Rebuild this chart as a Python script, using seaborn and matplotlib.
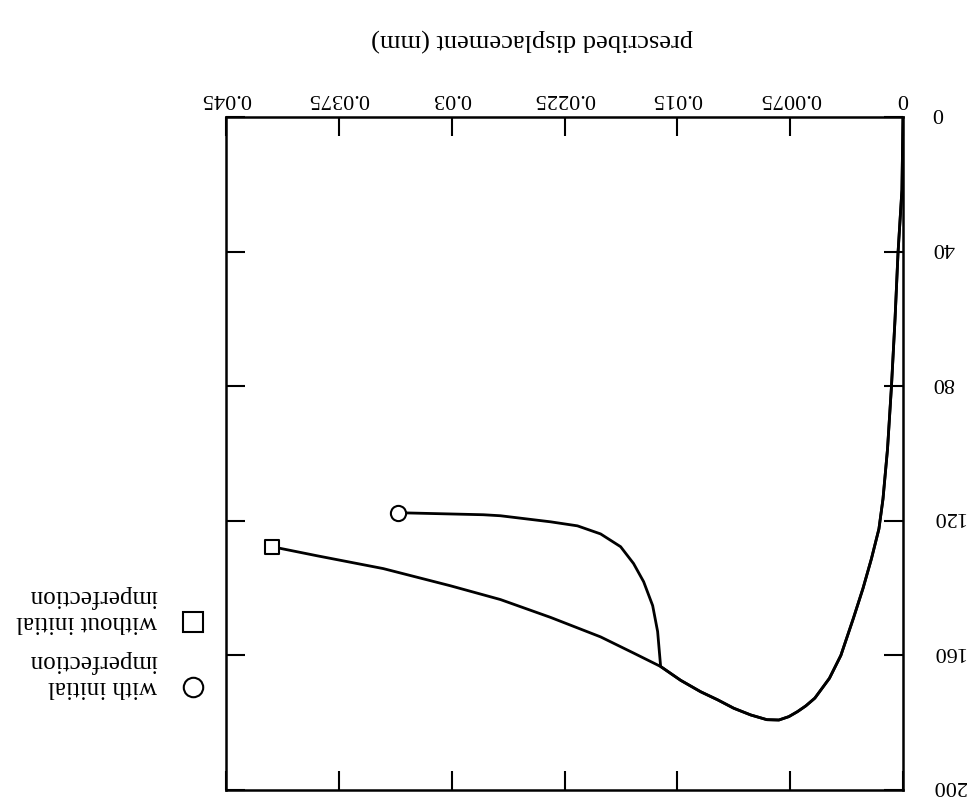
import matplotlib
matplotlib.use("Agg")
import matplotlib.pyplot as plt
import matplotlib.lines as mlines
from matplotlib.transforms import ScaledTranslation
import pandas as pd
import seaborn as sns

# Load path without initial imperfection (displacement in mm, load)
disp_without = [0, 0.00007, 0.00033, 0.00053, 0.00077, 0.00103, 0.00133, 0.00160, 0.00210,
                0.00266, 0.00330, 0.00413, 0.00489, 0.00586, 0.00646, 0.00701, 0.00759,
                0.00825, 0.00905, 0.01012, 0.01125, 0.01232, 0.01345, 0.01478, 0.01611,
                0.01791, 0.02010, 0.02343, 0.02676, 0.03009, 0.03455, 0.03894, 0.04194]
load_without = [0, 21.6, 40.3, 60.1, 80.3, 98.7, 113.5, 122.4, 131.3,
                140.1, 149.0, 160.0, 166.8, 172.7, 175.0, 176.7, 178.2,
                179.2, 179.1, 177.7, 175.7, 173.2, 170.8, 167.4, 163.3,
                159.3, 154.5, 148.7, 143.4, 139.3, 134.2, 130.4, 127.7]

# Load path with initial imperfection
disp_with = [0, 0.00007, 0.00033, 0.00053, 0.00077, 0.00103, 0.00133, 0.00160, 0.00210,
             0.00266, 0.00330, 0.00413, 0.00489, 0.00586, 0.00646, 0.00701, 0.00759,
             0.00825, 0.00905, 0.01012, 0.01125, 0.01232, 0.01345, 0.01478, 0.01611,
             0.01631, 0.01664, 0.01724, 0.01791, 0.01877, 0.02010, 0.02164, 0.02343,
             0.02676, 0.02789, 0.03355]
load_with = [0, 21.6, 40.3, 60.1, 80.3, 98.7, 113.5, 122.4, 131.3,
             140.1, 149.0, 160.0, 166.8, 172.7, 175.0, 176.7, 178.2,
             179.2, 179.1, 177.7, 175.7, 173.2, 170.8, 167.4, 163.3,
             152.9, 145.2, 138.1, 132.7, 127.7, 123.9, 121.5, 120.3,
             118.5, 118.2, 117.6]

x_ticks = [0, 0.0075, 0.015, 0.0225, 0.03, 0.0375, 0.045]
x_tick_labels = ["0", "0.0075", "0.015", "0.0225", "0.03", "0.0375", "0.045"]
y_ticks = [0, 40, 80, 120, 160, 200]
y_tick_labels = ["0", "40", "80", "120", "160", "200"]

series_labels = ["with initial\nimperfection", "without initial\nimperfection"]

sns.set_theme(style="white")
plt.rcParams["font.family"] = ["Liberation Serif", "DejaVu Serif"]

fig = plt.figure(figsize=(9.76, 8.03), dpi=100)
ax = fig.add_axes([226 / 976, 1 - 791 / 803, 677 / 976, 673 / 803])

df_without = pd.DataFrame({"disp": disp_without, "load": load_without})
df_with = pd.DataFrame({"disp": disp_with, "load": load_with})

sns.lineplot(data=df_without, x="disp", y="load", sort=False, estimator=None,
             color="black", linewidth=2.0, ax=ax)
sns.lineplot(data=df_with, x="disp", y="load", sort=False, estimator=None,
             color="black", linewidth=2.0, ax=ax)

# open end markers on each path
sns.scatterplot(x=[disp_without[-1]], y=[load_without[-1]], marker="s", s=110,
                facecolor="white", edgecolor="black", linewidth=1.5, zorder=5, ax=ax)
sns.scatterplot(x=[disp_with[-1]], y=[load_with[-1]], marker="o", s=120,
                facecolor="white", edgecolor="black", linewidth=1.5, zorder=5, ax=ax)

# whole chart is drawn turned half a revolution
ax.set_xlim(0.045, 0)
ax.set_ylim(200, 0)

ax.set_xticks(x_ticks, x_tick_labels)
ax.set_yticks(y_ticks, y_tick_labels)
ax.tick_params(axis="x", direction="in", length=14, width=1.5, color="black",
               top=True, bottom=True, labeltop=True, labelbottom=False,
               labelsize=16, pad=7, labelrotation=180, labelcolor="black")
ax.tick_params(axis="y", direction="in", length=14, width=1.5, color="black",
               left=True, right=True, labelright=True, labelleft=False,
               labelsize=16, pad=21, labelrotation=180, labelcolor="black")
lift = ScaledTranslation(0, 0.05, fig.dpi_scale_trans)
for t in ax.yaxis.get_major_ticks():
    t.label2.set_va("center")
    t.label2.set_transform(t.label2.get_transform() + lift)

for sp in ax.spines.values():
    sp.set_visible(True)
    sp.set_color("black")
    sp.set_linewidth(1.8)

ax.set_xlabel("prescribed displacement (mm)", fontsize=19, rotation=180, color="black")
ax.xaxis.set_label_position("top")
ax.xaxis.label.set_va("center")
ax.xaxis.set_label_coords((532 - 226) / 677, 1 + (118 - 40) / 673)
ax.set_ylabel("")

# legend, laid out by hand so that it reads turned like the rest
fig.add_artist(mlines.Line2D([193 / 976], [1 - 688 / 803], transform=fig.transFigure,
                             marker="o", markersize=14, markerfacecolor="white",
                             markeredgecolor="black", markeredgewidth=1.5, linestyle="none"))
fig.add_artist(mlines.Line2D([193 / 976], [1 - 623 / 803], transform=fig.transFigure,
                             marker="s", markersize=14, markerfacecolor="white",
                             markeredgecolor="black", markeredgewidth=1.5, linestyle="none"))
fig.text(157 / 976, 1 - 674 / 803, series_labels[0], rotation=180, ha="right", va="center",
         multialignment="left", fontsize=18, color="black", linespacing=1.12)
fig.text(157 / 976, 1 - 609 / 803, series_labels[1], rotation=180, ha="right", va="center",
         multialignment="left", fontsize=18, color="black", linespacing=1.12)

fig.savefig("out.png", dpi=100)
